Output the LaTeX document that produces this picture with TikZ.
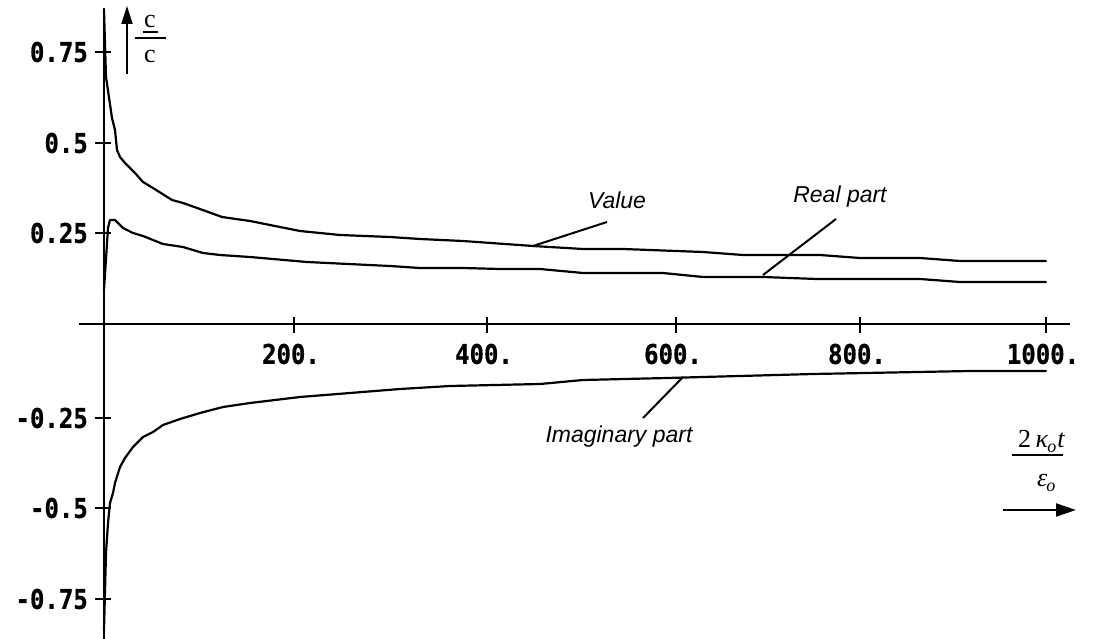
\documentclass[tikz,border=0pt]{standalone}
\usepackage{fontspec}
\usepackage{graphicx}
\setmainfont{Liberation Serif}
\newfontfamily\tickfont{DejaVu Sans Mono}[BoldFeatures={FakeBold=0.8}]
\newfontfamily\labfont{Liberation Sans}
\usetikzlibrary{arrows.meta}
\newcommand\talltext[1]{\scalebox{1}[1.13]{#1}}
\begin{document}
\begin{tikzpicture}[x=1pt,y=-1pt,
  axis/.style={line width=2pt},
  curve/.style={line width=2.2pt,line join=round,line cap=round},
  leader/.style={line width=2pt},
  tick/.style={line width=2pt},
  ticklab/.style={inner sep=0pt,font=\tickfont\bfseries\fontsize{24}{28}\selectfont},
  lab/.style={inner sep=0pt,font=\labfont\itshape\fontsize{23}{27}\selectfont},
  serif/.style={inner sep=0pt,font=\fontsize{26}{30}\selectfont}]
\useasboundingbox (0,0) rectangle (1100,639);
% axes
\coordinate (ytop) at (104,8);
\coordinate (ybot) at (104,639);
\coordinate (xl) at (79,324);
\coordinate (xr) at (1070,324);
\draw[axis] (ytop) -- (ybot);
\draw[axis] (xl) -- (xr);
% x ticks
\foreach \x/\l in {294/200., 487/400., 676/600., 860/800., 1046/1000.}{
  \draw[tick] (\x,317) -- (\x,333);
  \node[ticklab] (xt\x) at (\x-3,354) {\talltext{\l}};
}
% y ticks
\foreach \y/\l in {52/0.75, 143/0.5, 233/0.25, 418/-0.25, 508/-0.5, 599/-0.75}{
  \draw[tick] (95,\y) -- (111,\y);
  \node[ticklab,anchor=east] (yt\y) at (88,\y) {\talltext{\l}};
}
% curves
\draw[curve] plot coordinates {(104,10) (106,77) (112,118) (115,130) (117,150) (120,157) (125,163) (135,173) (143,182) (153,188) (172,200) (183,203) (200,209) (222,217) (250,221) (260,223) (300,231) (340,235) (390,237) (420,239) (463,241) (533,246) (583,249) (623,249) (703,252) (743,255) (820,255) (860,258) (920,258) (960,261) (1046,261)};
\draw[curve] plot coordinates {(104,290) (108,228) (110,220) (115,220) (123,228) (133,233) (143,236) (163,244) (183,247) (203,253) (220,255) (250,257) (307,262) (390,266) (420,268) (463,268) (500,269) (540,269) (583,273) (663,273) (703,277) (763,277) (817,279) (920,279) (960,282) (1046,282)};
\draw[curve] plot coordinates {(104,630) (106,553) (108,523) (110,503) (113,493) (115,483) (120,467) (125,458) (133,447) (143,437) (153,432) (163,425) (180,419) (200,413) (223,407) (250,403) (300,397) (350,393) (400,389) (450,386) (540,384) (583,380) (667,378) (703,377) (813,374) (970,371) (1046,371)};
% labels and leaders
\node[lab] (value) at (617,200) {Value};
\node[lab] (real) at (840,197) {Real part};
\node[lab] (imag) at (619,437) {Imaginary part};
\coordinate (vs) at (607,222); \coordinate (ve) at (533,246);
\coordinate (rs) at (836,219); \coordinate (re) at (763,275);
\coordinate (is) at (643,418); \coordinate (ie) at (683,377);
\draw[leader] (vs) -- (ve);
\draw[leader] (rs) -- (re);
\draw[leader] (is) -- (ie);
% top-left y label
\coordinate (ua) at (127,74); \coordinate (ub) at (127,6);
\draw[line width=2pt,-{Triangle[length=18pt,width=11pt]}] (ua) -- (ub);
\node[serif,anchor=base] (cnum) at (150,28) {c};
\coordinate (ul1) at (143,32); \coordinate (ul2) at (158,32);
\draw[line width=2pt] (ul1) -- (ul2);
\node[serif,anchor=base] (cden) at (150,63) {c};
\coordinate (fb1) at (135,38); \coordinate (fb2) at (166,38);
\draw[line width=1.8pt] (fb1) -- (fb2);
% bottom-right x label
\node[serif,anchor=base west] (knum) at (1018,447) {2\,\textit{κ}\kern-1pt\raisebox{-5pt}{\fontsize{18}{18}\selectfont\itshape o}\kern1pt\textit{t}};
\coordinate (kb1) at (1012,455); \coordinate (kb2) at (1063,455);
\draw[line width=1.8pt] (kb1) -- (kb2);
\node[serif,anchor=base west] (eden) at (1037,486) {\textit{ε}\kern-1pt\raisebox{-5pt}{\fontsize{18}{18}\selectfont\itshape o}};
\coordinate (ra) at (1003,510); \coordinate (rb) at (1076,510);
\draw[line width=2pt,-{Triangle[length=20pt,width=13pt]}] (ra) -- (rb);
\end{tikzpicture}
\end{document}
